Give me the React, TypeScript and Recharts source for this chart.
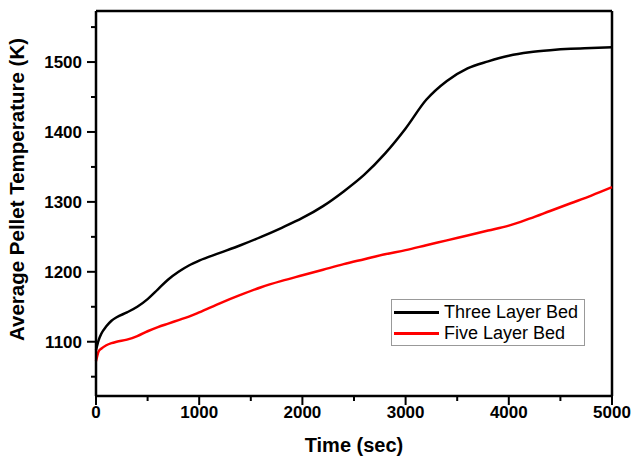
import { LineChart, Line, XAxis, YAxis, ReferenceLine } from 'recharts';

const times = [0, 25, 50, 100, 150, 200, 300, 400, 500, 600, 700, 800, 900, 1000, 1200, 1400, 1600, 1800, 2000, 2200, 2400, 2600, 2800, 3000, 3200, 3400, 3600, 3800, 4000, 4200, 4400, 4600, 4800, 5000];
const threeLayer = [1088, 1102, 1111, 1122, 1130, 1135, 1142, 1150, 1161, 1175, 1189, 1200, 1209, 1216, 1227, 1238, 1250, 1263, 1277, 1294, 1315, 1339, 1369, 1405, 1446, 1473, 1491, 1501, 1509, 1514, 1517, 1519, 1520, 1521];
const fiveLayer = [1072, 1086, 1090, 1095, 1098, 1100, 1103, 1108, 1115, 1121, 1126, 1131, 1136, 1142, 1155, 1167, 1178, 1187, 1195, 1203, 1211, 1218, 1225, 1231, 1238, 1245, 1252, 1259, 1266, 1276, 1287, 1298, 1309, 1321];

const xTicks = [0, 500, 1000, 1500, 2000, 2500, 3000, 3500, 4000, 4500, 5000];
const yTicks = [1050, 1100, 1150, 1200, 1250, 1300, 1350, 1400, 1450, 1500, 1550];
const xMajor = [0, 1000, 2000, 3000, 4000, 5000];
const yMajor = [1100, 1200, 1300, 1400, 1500];
const xDomain = [0, 5000];
const yDomain = [1022.4, 1573];

const seriesNames = ['Three Layer Bed', 'Five Layer Bed'];
const seriesColors = ['#000000', '#ff0000'];

const data = times.map((t, i) => ({ t, three: threeLayer[i], five: fiveLayer[i] }));

const font = '"Liberation Sans", Arial, sans-serif';

function XTick({ x, y, payload }: any) {
  const major = xMajor.includes(payload.value);
  return (
    <g>
      <line x1={x} x2={x} y1={y} y2={y + (major ? 9 : 5)} stroke="#000" strokeWidth={2} />
      {major && (
        <text x={x} y={y + 22} textAnchor="middle" fontFamily={font} fontWeight="bold" fontSize={17} fill="#000">
          {payload.value}
        </text>
      )}
    </g>
  );
}

function YTick({ x, y, payload }: any) {
  const major = yMajor.includes(payload.value);
  return (
    <g>
      <line x1={x} x2={x - (major ? 9 : 5)} y1={y} y2={y} stroke="#000" strokeWidth={2} />
      {major && (
        <text x={x - 14} y={y + 6} textAnchor="end" fontFamily={font} fontWeight="bold" fontSize={17} fill="#000">
          {payload.value}
        </text>
      )}
    </g>
  );
}

function LegendBox() {
  return (
    <div style={{ position: 'absolute', left: 391, top: 299, width: 194, height: 47, border: '1px solid #999', background: '#fff', boxSizing: 'border-box', paddingTop: 2 }}>
      {seriesNames.map((n, i) => (
        <div key={n} style={{ display: 'flex', alignItems: 'center', height: 21 }}>
          <div style={{ width: 45, height: 3, background: seriesColors[i], marginLeft: 2, marginRight: 5 }} />
          <span style={{ fontFamily: font, fontSize: 18, color: '#000', lineHeight: '21px' }}>{n}</span>
        </div>
      ))}
    </div>
  );
}

export default function App() {
  return (
    <div style={{ position: 'absolute', left: 0, top: 0, width: 633, height: 459, background: '#fff' }}>
      <LineChart width={633} height={459} data={data} margin={{ top: 11, right: 21, left: 0, bottom: 0 }}>
        <XAxis
          dataKey="t"
          type="number"
          domain={xDomain}
          ticks={xTicks}
          interval={0}
          height={63}
          tickSize={0}
          tickMargin={0}
          tickLine={false}
          tick={<XTick />}
          axisLine={{ stroke: '#000', strokeWidth: 2.5 }}
          label={{ value: 'Time (sec)', position: 'insideBottom', offset: 7, fontFamily: font, fontWeight: 'bold', fontSize: 20, fill: '#000' }}
        />
        <YAxis
          type="number"
          domain={yDomain}
          ticks={yTicks}
          interval={0}
          width={96}
          tickSize={0}
          tickMargin={0}
          tickLine={false}
          tick={<YTick />}
          axisLine={{ stroke: '#000', strokeWidth: 2.5 }}
          label={{ value: 'Average Pellet Temperature (K)', angle: -90, position: 'insideLeft', offset: 0, dx: 17, dy: -14, fontFamily: font, fontWeight: 'bold', fontSize: 20.5, fill: '#000', style: { textAnchor: 'middle' } }}
        />
        <ReferenceLine y={yDomain[1]} stroke="#000" strokeWidth={2.5} />
        <ReferenceLine x={xDomain[1]} stroke="#000" strokeWidth={2.5} />
        <Line type="monotone" dataKey="three" name={seriesNames[0]} stroke={seriesColors[0]} strokeWidth={2.5} dot={false} isAnimationActive={false} />
        <Line type="monotone" dataKey="five" name={seriesNames[1]} stroke={seriesColors[1]} strokeWidth={2.5} dot={false} isAnimationActive={false} />
      </LineChart>
      <LegendBox />
    </div>
  );
}
